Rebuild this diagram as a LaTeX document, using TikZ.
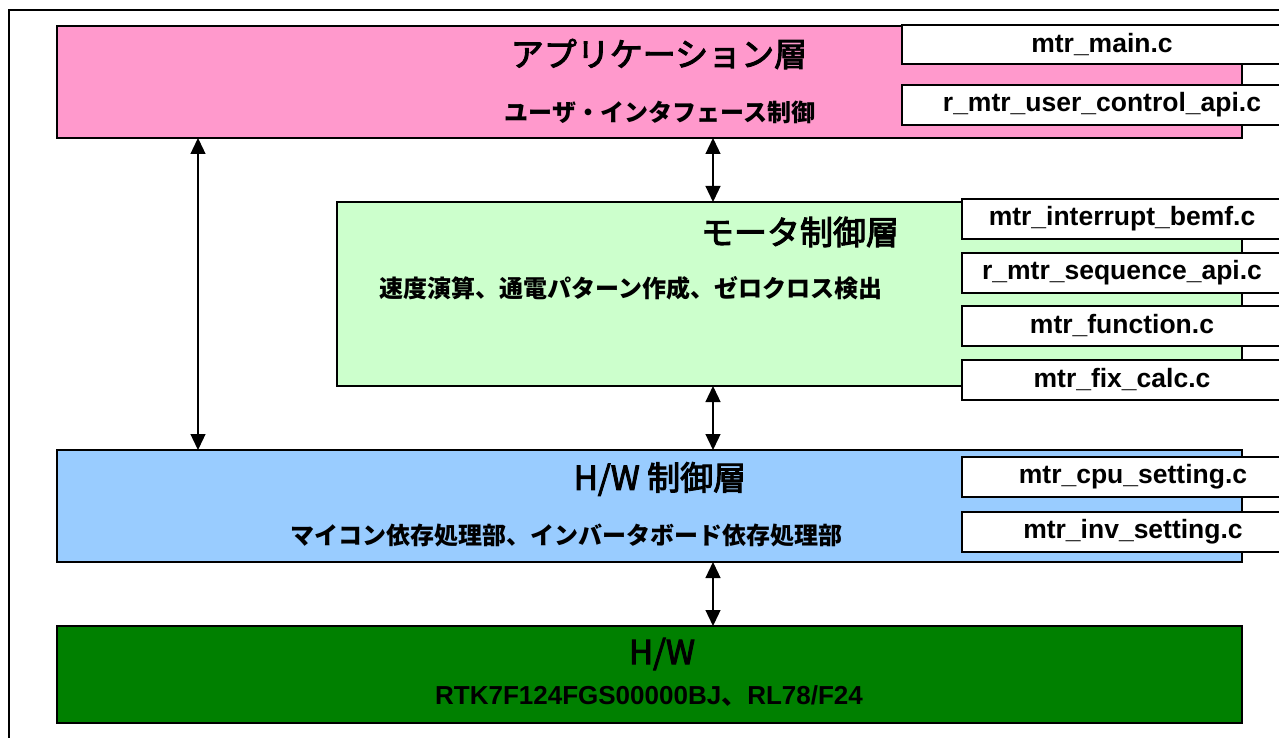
\documentclass[tikz,border=0pt]{standalone}
\usepackage{fontspec}
\setmainfont{Liberation Sans}
\newfontfamily\jp{Noto Sans CJK JP}
\newfontfamily\jpt[RawFeature={embolden=3}]{Noto Sans CJK JP}
\usetikzlibrary{arrows.meta}
\tikzset{
  layer/.style={draw=black, line width=1.3pt, anchor=north west, inner sep=0pt, outer sep=0pt},
  filebox/.style={draw=black, line width=1.3pt, fill=white, anchor=north west, inner sep=0pt, outer sep=0pt,
     font=\fontsize{26.5}{26.5}\selectfont\bfseries},
  ttl/.style={font=\jpt\fontsize{33}{33}\selectfont, inner sep=0pt},
  sub/.style={font=\jp\bfseries\fontsize{24}{24}\selectfont, inner sep=0pt},
  conn/.style={line width=1.3pt, {Triangle[width=15pt,length=16pt]}-{Triangle[width=15pt,length=16pt]}}
}
\begin{document}
\begin{tikzpicture}[x=1pt,y=-1pt]
\useasboundingbox (0,0) rectangle (1279,738);
\clip (0,0) rectangle (1279,738);
\fill[white] (0,0) rectangle (1279,738);
\draw[line width=2pt] (9,10) rectangle (1320,780);
% layers
\node[layer, fill={rgb,255:red,255;green,153;blue,204}, minimum width=1185pt, minimum height=112pt] (app) at (57,26) {};
\node[layer, fill={rgb,255:red,204;green,255;blue,204}, minimum width=905pt, minimum height=184pt] (motor) at (337,202) {};
\node[layer, fill={rgb,255:red,153;green,204;blue,255}, minimum width=1185pt, minimum height=112pt] (hwc) at (57,450) {};
\node[layer, fill={rgb,255:red,0;green,128;blue,0}, minimum width=1185pt, minimum height=97pt] (hw) at (57,626) {};
% texts
\node[ttl] (appt) at (659,54) {アプリケーション層};
\node[sub] (apps) at (660,112) {ユーザ・インタフェース制御};
\node[ttl] (motort) at (800,232) {モータ制御層};
\node[sub] (motors) at (631,288) {速度演算、通電パターン作成、ゼロクロス検出};
\node[ttl] (hwct) at (660,479) {H/W 制御層};
\node[sub] (hwcs) at (566,535) {マイコン依存処理部、インバータボード依存処理部};
\node[ttl] (hwt) at (662,654) {H/W};
\node[inner sep=0pt, font=\fontsize{26}{26}\selectfont\bfseries] (hws) at (649,696) {RTK7F124FGS00000BJ{\jp 、}RL78/F24};
% file boxes
\node[filebox, minimum width=400pt, minimum height=39pt] (f1) at (902,25) {mtr\_main.c};
\node[filebox, minimum width=400pt, minimum height=40pt] (f2) at (902,85) {r\_mtr\_user\_control\_api.c};
\node[filebox, minimum width=320pt, minimum height=40pt] (f3) at (962,199) {mtr\_interrupt\_bemf.c};
\node[filebox, minimum width=320pt, minimum height=40pt] (f4) at (962,253) {r\_mtr\_sequence\_api.c};
\node[filebox, minimum width=320pt, minimum height=40pt] (f5) at (962,306) {mtr\_function.c};
\node[filebox, minimum width=320pt, minimum height=40pt] (f6) at (962,360) {mtr\_fix\_calc.c};
\node[filebox, minimum width=342pt, minimum height=40pt] (f7) at (962,457) {mtr\_cpu\_setting.c};
\node[filebox, minimum width=342pt, minimum height=40pt] (f8) at (962,512) {mtr\_inv\_setting.c};
% connectors
\coordinate (lx) at (198,0);
\coordinate (mx) at (713,0);
\draw[conn] (app.south -| lx) -- (hwc.north -| lx);
\draw[conn] (app.south -| mx) -- (motor.north -| mx);
\draw[conn] (motor.south -| mx) -- (hwc.north -| mx);
\draw[conn] (hwc.south -| mx) -- (hw.north -| mx);
\end{tikzpicture}
\end{document}
